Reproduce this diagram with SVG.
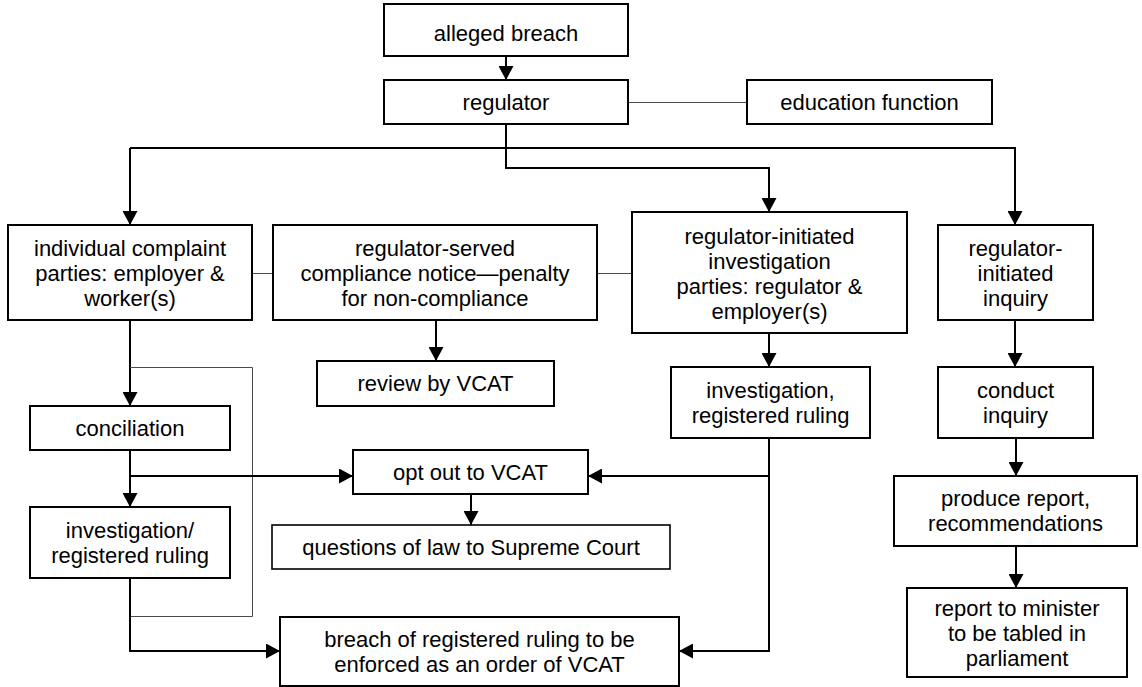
<svg xmlns="http://www.w3.org/2000/svg" width="1142" height="687" viewBox="0 0 1142 687">
<defs>
<marker id="ah" markerUnits="userSpaceOnUse" markerWidth="14" markerHeight="15" refX="14" refY="7.5" orient="auto"><path d="M0,0 L14,7.5 L0,15 z" fill="#000"/></marker>
<style>
.box{fill:#fff;stroke:#000;stroke-width:2}
.thinbox{fill:#fff;stroke:#000;stroke-width:1.6}
text{font-family:"Liberation Sans",Arial,sans-serif;font-size:22px;fill:#000;text-anchor:middle}
.c{fill:none;stroke:#000;stroke-width:2}
.a{marker-end:url(#ah)}
.g{fill:none;stroke:#4a4a4a;stroke-width:1}
</style>
</defs>
<g id="connectors">
<path class="c a" d="M506,56 V80"/>
<path class="g" d="M628,102.5 H747"/>
<path class="c a" d="M506,124 V168 H769 V212"/>
<path class="c a" d="M130,148 V225"/>
<path class="c a" d="M130,148 H1015 V225"/>
<path class="g" d="M252,273.5 H273"/>
<path class="g" d="M597,273.5 H632"/>
<path class="c a" d="M436,320 V361"/>
<path class="c a" d="M769,333 V367"/>
<path class="c a" d="M1015,320 V367"/>
<path class="c a" d="M130,320 V406"/>
<path class="g" d="M130,367.5 H252.5 V616.5 H130"/>
<path class="c a" d="M130,450 V507"/>
<path class="c a" d="M130,476 H353"/>
<path class="c a" d="M769,438 V651 H679"/>
<path class="c a" d="M769,476 H588"/>
<path class="c a" d="M471,494 V525"/>
<path class="c a" d="M130,578 V651 H280"/>
<path class="c a" d="M1016,438 V476"/>
<path class="c a" d="M1016,546 V588"/>
</g>
<g id="n-alleged"><rect class="box" x="384" y="4" width="244" height="52"/><text x="506" y="41">alleged breach</text></g>
<g id="n-regulator"><rect class="box" x="384" y="80" width="244" height="44"/><text x="506" y="110">regulator</text></g>
<g id="n-education"><rect class="box" x="747" y="80" width="245" height="44"/><text x="869.5" y="110">education function</text></g>
<g id="n-individual"><rect class="box" x="8" y="225" width="244" height="95"/><text x="130" y="256">individual complaint</text><text x="130" y="281">parties: employer &amp;</text><text x="130" y="306">worker(s)</text></g>
<g id="n-compliance"><rect class="box" x="273" y="225" width="324" height="95"/><text x="435" y="256">regulator-served</text><text x="435" y="281">compliance notice—penalty</text><text x="435" y="306">for non-compliance</text></g>
<g id="n-investigation"><rect class="box" x="632" y="212" width="275" height="121"/><text x="769.5" y="244">regulator-initiated</text><text x="769.5" y="269">investigation</text><text x="769.5" y="294">parties: regulator &amp;</text><text x="769.5" y="319">employer(s)</text></g>
<g id="n-inquiry"><rect class="box" x="938" y="225" width="155" height="95"/><text x="1015.5" y="256">regulator-</text><text x="1015.5" y="281">initiated</text><text x="1015.5" y="306">inquiry</text></g>
<g id="n-review"><rect class="box" x="317" y="361" width="237" height="45"/><text x="435.5" y="391">review by VCAT</text></g>
<g id="n-invruling"><rect class="box" x="671" y="367" width="199" height="71"/><text x="770.5" y="398">investigation,</text><text x="770.5" y="423">registered ruling</text></g>
<g id="n-conduct"><rect class="box" x="938" y="367" width="155" height="71"/><text x="1015.5" y="398">conduct</text><text x="1015.5" y="423">inquiry</text></g>
<g id="n-conciliation"><rect class="box" x="30" y="406" width="200" height="44"/><text x="130" y="436">conciliation</text></g>
<g id="n-optout"><rect class="box" x="353" y="450" width="235" height="44"/><text x="470.5" y="480">opt out to VCAT</text></g>
<g id="n-invreg"><rect class="box" x="30" y="507" width="200" height="71"/><text x="130" y="538">investigation/</text><text x="130" y="563">registered ruling</text></g>
<g id="n-questions"><rect class="thinbox" x="272" y="525" width="398" height="44"/><text x="471" y="555">questions of law to Supreme Court</text></g>
<g id="n-breach"><rect class="box" x="280" y="617" width="399" height="69"/><text x="479.5" y="647">breach of registered ruling to be</text><text x="479.5" y="672">enforced as an order of VCAT</text></g>
<g id="n-produce"><rect class="box" x="894" y="476" width="243" height="70"/><text x="1015.5" y="506">produce report,</text><text x="1015.5" y="531">recommendations</text></g>
<g id="n-report"><rect class="box" x="907" y="588" width="220" height="89"/><text x="1017" y="616">report to minister</text><text x="1017" y="641">to be tabled in</text><text x="1017" y="666">parliament</text></g>
</svg>
